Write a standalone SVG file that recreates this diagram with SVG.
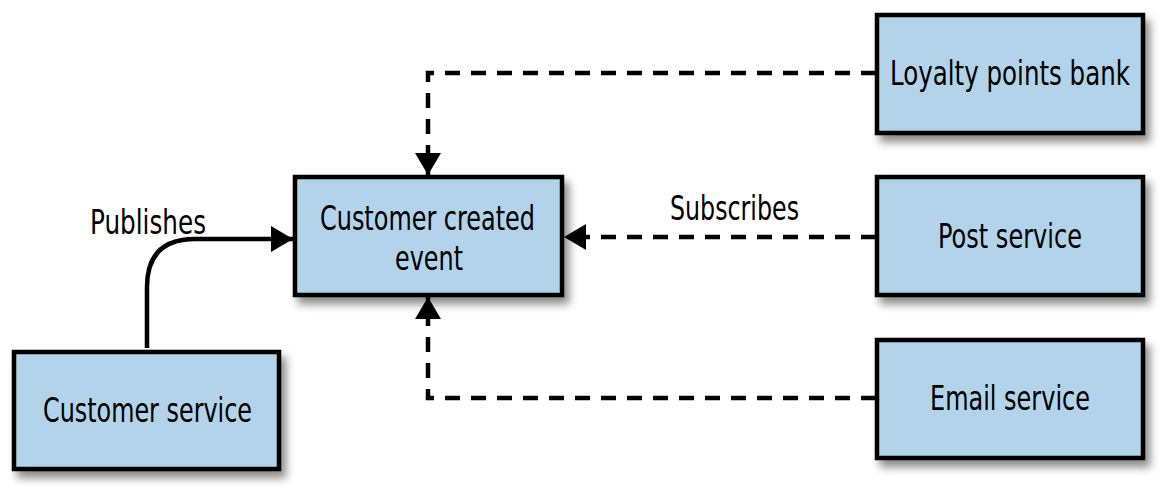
<svg xmlns="http://www.w3.org/2000/svg" width="1171" height="499" viewBox="0 0 1171 499">
<style>
.box{fill:#b2d3e9;stroke:#000;stroke-width:4.5;filter:url(#sh)}
.t{font-family:"Liberation Sans Narrow","DejaVu Sans Condensed","Liberation Sans",sans-serif;font-size:34px;fill:#000}
.c{fill:none;stroke:#000;stroke-width:4.5}
.d{stroke-dasharray:15 11;stroke-linecap:butt}
</style>
<defs>
<filter id="sh" x="-10%" y="-10%" width="130%" height="140%">
<feDropShadow dx="5" dy="7" stdDeviation="4" flood-color="#000" flood-opacity="0.45"/>
</filter>
<marker id="ah" viewBox="0 0 22 26" refX="22" refY="13" markerWidth="22" markerHeight="26" markerUnits="userSpaceOnUse" orient="auto">
<path d="M0,0 L22,13 L0,26 Z" fill="#000"/>
</marker>
</defs>
<g id="connectors">
<path class="c" d="M147,348 V287 Q147,239 195,239 H293" marker-end="url(#ah)"/>
<path class="c d" d="M876,73 H428 V175" marker-end="url(#ah)"/>
<path class="c d" d="M876,237 H564" marker-end="url(#ah)"/>
<path class="c d" d="M876,398 H428 V297" marker-end="url(#ah)"/>
<text class="t" x="90" y="234" textLength="116" lengthAdjust="spacingAndGlyphs">Publishes</text>
<text class="t" x="670" y="220" textLength="129" lengthAdjust="spacingAndGlyphs">Subscribes</text>
</g>
<g id="customer-service">
<rect class="box" x="14" y="352" width="265" height="117"/>
<text class="t" x="43" y="422" textLength="209" lengthAdjust="spacingAndGlyphs">Customer service</text>
</g>
<g id="customer-created-event">
<rect class="box" x="295" y="177" width="267" height="118"/>
<text class="t" x="320" y="230" textLength="215" lengthAdjust="spacingAndGlyphs">Customer created</text>
<text class="t" x="395" y="270" textLength="68" lengthAdjust="spacingAndGlyphs">event</text>
</g>
<g id="loyalty-points-bank">
<rect class="box" x="877" y="15" width="266" height="118"/>
<text class="t" x="890" y="85" textLength="240" lengthAdjust="spacingAndGlyphs">Loyalty points bank</text>
</g>
<g id="post-service">
<rect class="box" x="877" y="177" width="266" height="118"/>
<text class="t" x="938" y="248" textLength="144" lengthAdjust="spacingAndGlyphs">Post service</text>
</g>
<g id="email-service">
<rect class="box" x="877" y="340" width="266" height="118"/>
<text class="t" x="930" y="410" textLength="160" lengthAdjust="spacingAndGlyphs">Email service</text>
</g>
</svg>
